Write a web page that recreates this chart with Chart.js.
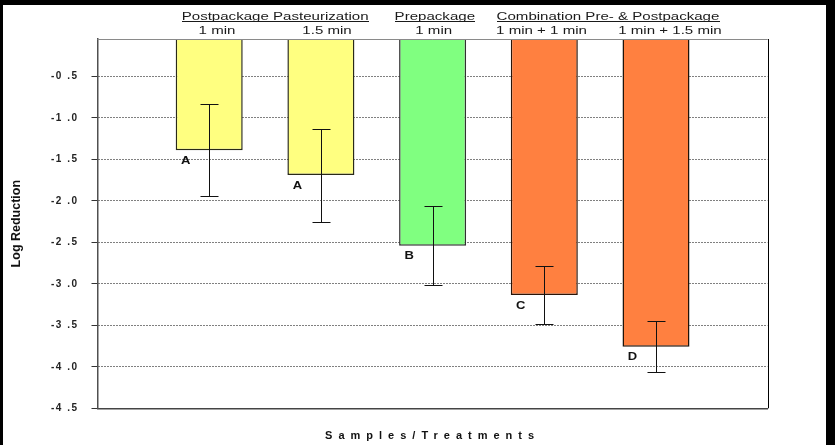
<!DOCTYPE html>
<html>
<head>
<meta charset="utf-8">
<script src="https://cdn.jsdelivr.net/npm/chart.js@4.4.1/dist/chart.umd.min.js"></script>
<style>
  html, body { margin: 0; padding: 0; background: #000; width: 835px; height: 445px; overflow: hidden; }
  .paper { position: absolute; left: 3px; top: 5px; width: 823px; height: 440px; background: #fff; }
  #chart { position: absolute; left: 0; top: 0; }
</style>
</head>
<body>
<div class="paper"></div>
<canvas id="chart" width="835" height="445"></canvas>
<script>
// data
const groups = ['Postpackage Pasteurization', 'Prepackage', 'Combination Pre- & Postpackage'];
const treatments = ['1 min', '1.5 min', '1 min', '1 min + 1 min', '1 min + 1.5 min'];
const logReduction = [-1.39, -1.69, -2.54, -3.135, -3.757];
const stdError = [0.555, 0.56, 0.48, 0.355, 0.305];
const letters = ['A', 'A', 'B', 'C', 'D'];
const yTicks = [-0.5, -1.0, -1.5, -2.0, -2.5, -3.0, -3.5, -4.0, -4.5];

// where the header labels sit, in x-axis units (bars are at 1..5)
const groupAt = [1.59, 3.02, 4.57];
const treatAt = [1.07, 2.055, 3.01, 3.975, 5.125];

const barColors = ['#ffff80', '#ffff80', '#80ff80', '#ff8040', '#ff8040'];
const barEdges = ['#2a2a18', '#2a2a18', '#303030', '#2a1408', '#1e1208'];

const FONT = '"Liberation Sans", Arial, sans-serif';
Chart.defaults.font.family = FONT;

// stretched text, the source renders its labels wide
function wideText(ctx, txt, x, y, sx) {
  ctx.save();
  ctx.translate(x, y);
  ctx.scale(sx, 1);
  ctx.fillText(txt, 0, 0);
  ctx.restore();
}

const decor = {
  id: 'decor',
  afterDatasetsDraw(chart) {
    const { ctx, chartArea: a, scales: { y } } = chart;
    const bars = chart.getDatasetMeta(0).data;
    ctx.save();
    // frame top + right
    ctx.lineWidth = 1;
    ctx.strokeStyle = '#8a8a8a';
    ctx.beginPath();
    ctx.moveTo(a.left, Math.round(a.top) + 0.5);
    ctx.lineTo(a.right, Math.round(a.top) + 0.5);
    ctx.stroke();
    ctx.strokeStyle = '#000';
    ctx.beginPath();
    ctx.moveTo(Math.round(a.right) + 0.5, a.top);
    ctx.lineTo(Math.round(a.right) + 0.5, a.bottom);
    ctx.stroke();

    // error bars
    ctx.strokeStyle = '#111';
    bars.forEach((b, i) => {
      const x = Math.round(b.x) + 0.5;
      const top = Math.round(y.getPixelForValue(logReduction[i] + stdError[i])) + 0.5;
      const bot = Math.round(y.getPixelForValue(logReduction[i] - stdError[i])) + 0.5;
      ctx.beginPath();
      ctx.moveTo(x, top); ctx.lineTo(x, bot);
      ctx.moveTo(x - 9, top); ctx.lineTo(x + 9, top);
      ctx.moveTo(x - 9, bot); ctx.lineTo(x + 9, bot);
      ctx.stroke();
    });

    // significance letters
    ctx.fillStyle = '#111';
    ctx.font = 'bold 10px ' + FONT;
    ctx.textAlign = 'center';
    ctx.textBaseline = 'middle';
    bars.forEach((b, i) => {
      wideText(ctx, letters[i], b.x - b.width / 2 + 10, b.y + 11, 1.3);
    });
    ctx.restore();
    // y tick labels (ticks.z = 1) are drawn after this, spaced out like the source
    ctx.letterSpacing = '1.5px';
  },
  afterDraw(chart) {
    const { ctx, chartArea: a, scales: { x } } = chart;
    ctx.letterSpacing = '0px';
    ctx.save();
    ctx.fillStyle = '#1a1a1a';
    ctx.font = '11px ' + FONT;
    ctx.textAlign = 'center';
    ctx.textBaseline = 'alphabetic';
    groups.forEach((g, i) => {
      const cx = x.getPixelForValue(groupAt[i]);
      wideText(ctx, g, cx, 20, 1.37);
      const w = ctx.measureText(g).width * 1.37;
      ctx.fillRect(Math.round(cx - w / 2), 21, Math.round(w), 1);
    });
    treatments.forEach((t, i) => {
      wideText(ctx, t, x.getPixelForValue(treatAt[i]), 34, 1.37);
    });

    // x axis title, letter spaced
    const xt = 'Samples/Treatments';
    ctx.font = 'bold 11px ' + FONT;
    ctx.letterSpacing = '6px';
    ctx.textAlign = 'left';
    ctx.textBaseline = 'middle';
    const w = ctx.measureText(xt).width - 6;
    ctx.fillStyle = '#111';
    ctx.fillText(xt, (a.left + a.right) / 2 - w / 2 - 3, 436);
    ctx.restore();
    ctx.letterSpacing = '0px';
  }
};

new Chart(document.getElementById('chart'), {
  type: 'bar',
  data: {
    datasets: [{
      data: logReduction.map((v, i) => ({ x: i + 1, y: v })),
      backgroundColor: barColors,
      borderColor: barEdges,
      borderWidth: 1.5,
      barPercentage: 0.6,
      categoryPercentage: 1,
      clip: 0
    }]
  },
  options: {
    responsive: false,
    animation: false,
    layout: { padding: { top: 39, right: 67.3, left: 0, bottom: 0 } },
    scales: {
      x: {
        type: 'linear',
        offset: false,
        min: 0,
        max: 6,
        afterFit: ax => { ax.height = 36.7; },
        ticks: { display: false, stepSize: 1 },
        grid: { display: false },
        border: { color: '#444', width: 1.5 }
      },
      y: {
        min: -4.5,
        max: -0.05,
        afterBuildTicks: ax => { ax.ticks = yTicks.map(v => ({ value: v })); },
        afterFit: ax => { ax.width = 97.5; },
        ticks: {
          z: 1,
          padding: 13,
          color: '#222',
          font: { size: 10, weight: 'bold' },
          callback: v => v.toFixed(1).replace('.', ' .')
        },
        grid: { color: '#000', lineWidth: 1, tickColor: '#333', tickLength: 6, tickWidth: 1 },
        border: { color: '#505050', width: 1.5, dash: [1, 2] },
        title: {
          display: true,
          text: 'Log Reduction',
          color: '#111',
          font: { size: 12.5, weight: 'bold' },
          padding: { top: 9.5, bottom: 0 }
        }
      }
    },
    plugins: {
      legend: { display: false },
      tooltip: { enabled: false }
    }
  },
  plugins: [decor]
});
</script>
</body>
</html>
